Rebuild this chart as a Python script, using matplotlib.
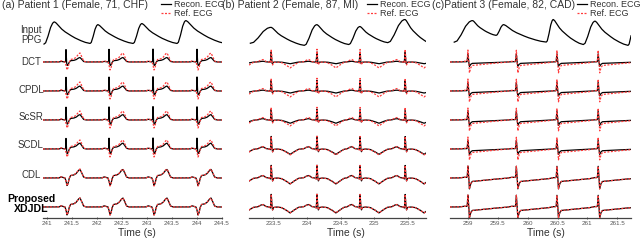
import numpy as np
import matplotlib.pyplot as plt

plt.rcParams['font.family'] = ['Liberation Sans', 'DejaVu Sans']

W, H = 640, 240
methods = ['DCT', 'CPDL', 'ScSR', 'SCDL', 'CDL', 'Proposed\nXDJDL']
titles = ['(a) Patient 1 (Female, 71, CHF)',
          '(b) Patient 2 (Female, 87, MI)',
          '(c)Patient 3 (Female, 82, CAD)']

# time windows (s) and ticks
xlims = [(240.92, 244.5), (233.14, 235.77), (258.7, 261.73)]
xticks = [[241, 241.5, 242, 242.5, 243, 243.5, 244, 244.5],
          [233.5, 234, 234.5, 235, 235.5],
          [259, 259.5, 260, 260.5, 261, 261.5]]

# PPG beats: onset time/level, peak time/level (level normalised 0..1)
ppg_onset_t = [[240.94, 241.86, 242.72, 243.60, 244.55],
               [233.16, 233.96, 234.62, 235.20, 235.85],
               [258.77, 259.47, 260.31, 260.93, 261.68, 262.5]]
ppg_onset_v = [[0.09, 0.11, 0.11, 0.11, 0.12],
               [0.12, 0.04, 0.07, 0.14, 0.10],
               [0.16, 0.41, 0.16, 0.07, 0.04, 0.10]]
ppg_peak_t = [[241.15, 242.02, 242.90, 243.78],
              [233.47, 234.15, 234.79, 235.46],
              [259.08, 259.60, 260.43, 261.13, 261.80]]
ppg_peak_v = [[0.91, 0.81, 0.85, 0.96],
              [0.71, 0.81, 0.74, 1.00],
              [0.96, 0.81, 1.00, 0.94, 0.90]]
# PPG upstroke / downstroke shape (fraction of time, fraction of amplitude)
rise_f = [0, 0.15, 0.35, 0.6, 0.8, 0.92, 1]
rise_a = [0, 0.05, 0.30, 0.72, 0.93, 0.99, 1]
fall_f = [0, 0.04, 0.10, 0.18, 0.28, 0.40, 0.55, 0.70, 0.85, 1]
fall_a = [1, 0.96, 0.85, 0.70, 0.56, 0.43, 0.28, 0.16, 0.06, 0]

# ECG beat (R) times per patient
beats = [[240.50, 241.38, 242.24, 243.12, 244.00],
         [232.80, 233.47, 234.15, 234.79, 235.46],
         [259.00, 259.81, 260.49, 261.18]]

# reference ECG beat shape: time from R (s), amplitude
ref_t = [[-0.35, -0.14, -0.10, -0.06, -0.02, 0.0, 0.02, 0.04, 0.06, 0.09, 0.15, 0.20, 0.25, 0.28, 0.31, 0.35, 0.40],
         [-0.30, -0.20, -0.15, -0.12, -0.08, -0.03, -0.01, 0.0, 0.01, 0.02, 0.035, 0.08, 0.15, 0.22, 0.28, 0.33, 0.40, 0.50],
         [-0.15, -0.06, -0.03, -0.012, 0.0, 0.012, 0.025, 0.045, 0.07, 0.15, 0.30, 0.45, 0.60, 0.70]]
ref_a = [[0, 0, 1.2, 0.5, 0, -3, -8, -6, -1, 2.5, 3, 4.5, 8, 9, 6, 1, 0],
         [0, 0.3, 2, 2.5, 0.5, 0, -1, 13, 2, -3, -0.5, 0, -0.5, -3, -6, -3.5, -0.5, 0],
         [0, 0.8, 0.5, 1, 12, 3, -11, -6, -3.5, -3, -2, -1.2, -0.5, 0]]

# spurious narrow R spike seen in the sparse-coding reconstructions
spike_t = [[-0.02, -0.008, 0.0, 0.01, 0.022, 0.035],
           [-0.015, 0.0, 0.012, 0.025],
           [-0.015, 0.0, 0.012, 0.025]]
spike_a = [[0, 2, 14.5, 3, 0.5, 0],
           [0, 8, -2, 0],
           [0, 6, -1, 0]]

# per-method mix of reference shape and spike in the reconstruction
ref_w = [[0.5, 0.55, 0.6, 0.65, 0.95, 1.0],
         [0.3, 0.35, 0.55, 0.9, 1.0, 1.0],
         [0.4, 0.45, 0.5, 0.5, 1.0, 1.0]]
spike_g = [[1.0, 1.1, 1.05, 0.9, 0, 0],
           [0.8, 0.8, 0.5, 0.15, 0, 0],
           [0.6, 0.6, 0.55, 0.5, 0, 0]]

AMP = 1 / 29.0   # amplitude units -> row spacing
PPG_H = 27 / 29.0

fig = plt.figure(figsize=(W / 100, H / 100), dpi=100)
ax_x = [(43, 222), (249, 426), (450, 631)]
title_x = [2, 222, 432]
time_x = [137, 346, 546]
legend_right = [224, 430, 640]


def ppg_curve(t, i):
    y = np.full_like(t, np.nan)
    ot, ov, pt, pv = ppg_onset_t[i], ppg_onset_v[i], ppg_peak_t[i], ppg_peak_v[i]
    for k in range(len(pt)):
        m = (t >= ot[k]) & (t <= pt[k])
        f = (t[m] - ot[k]) / (pt[k] - ot[k])
        y[m] = ov[k] + (pv[k] - ov[k]) * np.interp(f, rise_f, rise_a)
        if k + 1 < len(ot):
            m = (t > pt[k]) & (t <= ot[k + 1])
            f = (t[m] - pt[k]) / (ot[k + 1] - pt[k])
            y[m] = ov[k + 1] + (pv[k] - ov[k + 1]) * np.interp(f, fall_f, fall_a)
    return y


def beat_sum(t, bt, tt, aa):
    y = np.zeros_like(t)
    for b in bt:
        y += np.interp(t - b, tt, aa, left=0, right=0)
    return y


for i in range(3):
    x0, x1 = ax_x[i]
    ax = fig.add_axes([x0 / W, 1 - 218 / H, (x1 - x0) / W, 203 / H])
    t = np.linspace(xlims[i][0], xlims[i][1], 3000)

    ax.plot(t, (ppg_curve(t, i) - 0.5) * PPG_H, color='black', lw=0.9)

    ref = beat_sum(t, beats[i], ref_t[i], ref_a[i])
    spk = beat_sum(t, beats[i], spike_t[i], spike_a[i])
    for r in range(6):
        off = -(r + 1)
        recon = ref_w[i][r] * ref + spike_g[i][r] * spk
        ax.plot(t, off + recon * AMP, color='black', lw=0.9, zorder=2,
                label='Recon. ECG' if r == 0 else None)
        ax.plot(t, off + ref * AMP, color='#ff3b3b', lw=0.9, zorder=3,
                dashes=(1.6, 1.2), label='Ref. ECG' if r == 0 else None)

    ax.set_xlim(*xlims[i])
    ax.set_ylim(-6.38, 0.62)
    ax.set_xticks(xticks[i])
    ax.set_xticklabels([f'{v:g}' for v in xticks[i]])
    ax.tick_params(axis='x', labelsize=4.5, labelcolor='#555', length=2,
                   width=0.6, color='#444', direction='inout', pad=1)
    ax.set_yticks([])
    for s in ['left', 'top', 'right']:
        ax.spines[s].set_visible(False)
    ax.spines['bottom'].set_color('#444')
    ax.spines['bottom'].set_linewidth(0.9)
    ax.patch.set_alpha(0)

    fig.text(time_x[i] / W, 1 - 233 / H, 'Time (s)', fontsize=7.5,
             color='#333', ha='center', va='center')
    fig.text(title_x[i] / W, 1 - 5 / H, titles[i], fontsize=7.5, color='#333',
             ha='left', va='center')
    ax.legend(loc='upper right', bbox_to_anchor=(legend_right[i] / W, 1.0),
              bbox_transform=fig.transFigure, frameon=False, fontsize=6.5,
              handlelength=1.1, handletextpad=0.25, labelspacing=0.0,
              borderpad=0.0, borderaxespad=0.0, labelcolor='#333')

label_y = [35, 62, 90, 117, 145, 175, 203.5]
for lab, yy in zip(['Input\nPPG'] + methods, label_y):
    bold = lab.startswith('Proposed')
    fig.text(31 / W, 1 - yy / H, lab, fontsize=7.6 if bold else 7,
             fontweight='bold' if bold else 'normal', color='black' if bold else '#333',
             ha='center', va='center', linespacing=1.0)

fig.savefig('out.png', dpi=100)
